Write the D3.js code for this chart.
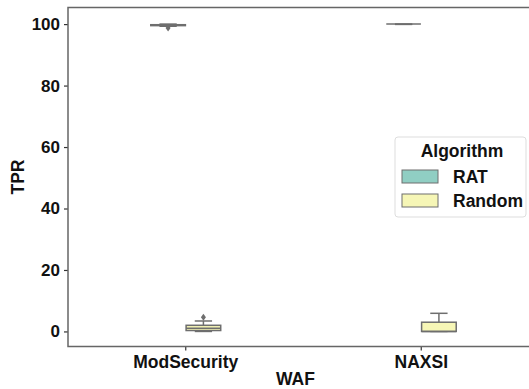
<!DOCTYPE html>
<html><head><meta charset="utf-8">
<script src="https://cdn.jsdelivr.net/npm/d3@7"></script>
<style>body{margin:0;background:#fff}svg{display:block}text{font-family:"Liberation Sans",Arial,sans-serif;font-weight:bold}</style>
</head><body><svg id="c" width="529" height="389"></svg>
<script>
const categories = ["ModSecurity", "NAXSI"];
const algorithms = ["RAT", "Random"];
const colors = ["#90cec3", "#f6f6b6"];
// box stats: [whiskerLow, q1, median, q3, whiskerHigh], outliers
const boxStats = {
  "ModSecurity|RAT":    {s: [99.3, 99.5, 99.6, 99.8, 100], out: [98.7]},
  "ModSecurity|Random": {s: [0, 0.3, 1.0, 2.0, 3.4], out: [4.6]},
  "NAXSI|RAT":          {s: [99.9, 100, 100, 100, 100], out: []},
  "NAXSI|Random":       {s: [0, 0, 0, 3.0, 5.9], out: []}
};
const yTicks = [0, 20, 40, 60, 80, 100];

const svg = d3.select("#c");
const L = 68, T = 7.5, B = 346.5, R = 539;
const x = d3.scaleBand().domain(categories).range([L, R]).paddingInner(0).paddingOuter(0);
const y = d3.scaleLinear().domain([-4.9, 105.4]).range([B, T]);
const sub = d3.scaleBand().domain(algorithms).range([-0.15, 0.15]);
const bw = x.bandwidth();
const grey = "#6e6e6e";

// axes
const yAxis = d3.axisLeft(y).tickValues(yTicks).tickSize(4).tickPadding(4);
const gy = svg.append("g").attr("transform", `translate(${L},0)`).call(yAxis);
gy.select(".domain").remove();
gy.selectAll("line").attr("stroke", "#333").attr("stroke-width", 1.2);
gy.selectAll("text").attr("font-size", 17).attr("fill", "#111");
const xAxis = d3.axisBottom(x).tickSize(4).tickPadding(5);
const gx = svg.append("g").attr("transform", `translate(0,${B})`).call(xAxis);
gx.select(".domain").remove();
gx.selectAll("line").attr("stroke", "#333").attr("stroke-width", 1.2);
gx.selectAll("text").attr("font-size", 17.5).attr("fill", "#111");

// boxes
categories.forEach(c => {
  algorithms.forEach((a, i) => {
    const st = boxStats[c + "|" + a];
    const cx = x(c) + bw / 2 + (sub(a) + sub.bandwidth() / 2) * bw;
    const w = sub.bandwidth() * bw * 0.98;
    const g = svg.append("g");
    const [wl, q1, md, q3, wh] = st.s;
    g.append("line").attr("x1", cx).attr("x2", cx).attr("y1", y(q3)).attr("y2", y(wh)).attr("stroke", grey).attr("stroke-width", 1.5);
    g.append("line").attr("x1", cx).attr("x2", cx).attr("y1", y(q1)).attr("y2", y(wl)).attr("stroke", grey).attr("stroke-width", 1.5);
    g.append("line").attr("x1", cx - w / 4).attr("x2", cx + w / 4).attr("y1", y(wh)).attr("y2", y(wh)).attr("stroke", grey).attr("stroke-width", 1.5);
    g.append("line").attr("x1", cx - w / 4).attr("x2", cx + w / 4).attr("y1", y(wl)).attr("y2", y(wl)).attr("stroke", grey).attr("stroke-width", 1.5);
    g.append("rect").attr("x", cx - w / 2).attr("y", y(q3)).attr("width", w).attr("height", Math.max(0, y(q1) - y(q3)))
      .attr("fill", colors[i]).attr("stroke", grey).attr("stroke-width", 1.5);
    g.append("line").attr("x1", cx - w / 2).attr("x2", cx + w / 2).attr("y1", y(md)).attr("y2", y(md)).attr("stroke", grey).attr("stroke-width", 1.5);
    st.out.forEach(o => {
      const oy = y(o);
      g.append("path").attr("d", `M${cx},${oy - 3.5}L${cx + 2.5},${oy}L${cx},${oy + 3.5}L${cx - 2.5},${oy}Z`).attr("fill", grey);
    });
  });
});

// spines
svg.append("path").attr("d", `M${R},${T}H${L}V${B}H${R}`).attr("fill", "none").attr("stroke", "#666").attr("stroke-width", 1.5);

// axis labels
svg.append("text").attr("x", (L + R) / 2 - 8).attr("y", 385).attr("text-anchor", "middle").attr("font-size", 17.5).attr("fill", "#111").text("WAF");
svg.append("text").attr("transform", `translate(24,${(T + B) / 2}) rotate(-90)`).attr("text-anchor", "middle").attr("font-size", 17.5).attr("fill", "#111").text("TPR");

// legend
const lg = svg.append("g").attr("transform", "translate(395,137)");
lg.append("rect").attr("width", 131).attr("height", 80).attr("rx", 3).attr("fill", "#fff").attr("fill-opacity", 0.8).attr("stroke", "#ddd");
lg.append("text").attr("x", 67).attr("y", 20).attr("text-anchor", "middle").attr("font-size", 17.5).attr("fill", "#111").text("Algorithm");
algorithms.forEach((a, i) => {
  lg.append("rect").attr("x", 7).attr("y", 33 + i * 24).attr("width", 36).attr("height", 13).attr("fill", colors[i]).attr("stroke", grey).attr("stroke-width", 1);
  lg.append("text").attr("x", 58).attr("y", 46 + i * 24).attr("font-size", 17.5).attr("fill", "#111").text(a);
});
</script></body></html>
